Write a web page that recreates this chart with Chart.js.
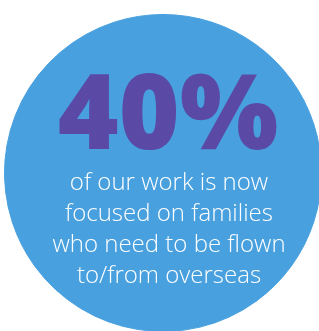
<!DOCTYPE html>
<html>
<head>
<meta charset="utf-8">
<script src="https://cdn.jsdelivr.net/npm/chart.js@4.4.1/dist/chart.umd.min.js"></script>
<style>
  html, body { margin: 0; padding: 0; background: #ffffff; overflow: hidden; }
  #wrap { position: relative; width: 319px; height: 331px; overflow: hidden; }
  canvas { position: absolute; left: 0; top: 0; }
</style>
</head>
<body>
<div id="wrap"><canvas id="blobChart" width="340" height="360"></canvas></div>
<script>
// share of the work, drawn as one blue disc (both slices the same colour)
const sliceLabels = ['Families flown to/from overseas', 'Other work'];
const sliceValues = [40, 60];

// texts on the disc
const headline = '40%';
const captionLines = [
    'of our work is now',
    'focused on families',
    'who need to be flown',
    'to/from overseas'
];

const discBlue = '#48a0df';
const headlinePurple = '#5a4aa6';

// draws the big number and the caption over the disc
const calloutText = {
    id: 'calloutText',
    afterDraw(chart) {
        const ctx = chart.ctx;
        ctx.save();
        ctx.textAlign = 'center';
        ctx.textBaseline = 'alphabetic';

        ctx.fillStyle = headlinePurple;
        ctx.font = '900 104px "Noto Sans", Inter, "DejaVu Sans", sans-serif';
        ctx.fillText(headline, 168, 149);

        ctx.fillStyle = '#ffffff';
        ctx.font = '300 24px "Open Sans", Lato, "Noto Sans", sans-serif';
        captionLines.forEach((line, i) => {
            ctx.fillText(line, 169, 190 + i * 31);
        });
        ctx.restore();
    }
};

const ctx = document.getElementById('blobChart').getContext('2d');

const blobChart = new Chart(ctx, {
    type: 'pie',
    data: {
        labels: sliceLabels,
        datasets: [{
            data: sliceValues,
            backgroundColor: [discBlue, discBlue],
            borderColor: discBlue,
            borderWidth: 1
        }]
    },
    options: {
        responsive: false,
        animation: false,
        events: [],
        rotation: 0,
        layout: {
            padding: { left: 4, right: 18, top: 14, bottom: 28 }
        },
        plugins: {
            legend: { display: false },
            tooltip: { enabled: false },
            title: { display: false }
        }
    },
    plugins: [calloutText]
});
</script>
</body>
</html>
